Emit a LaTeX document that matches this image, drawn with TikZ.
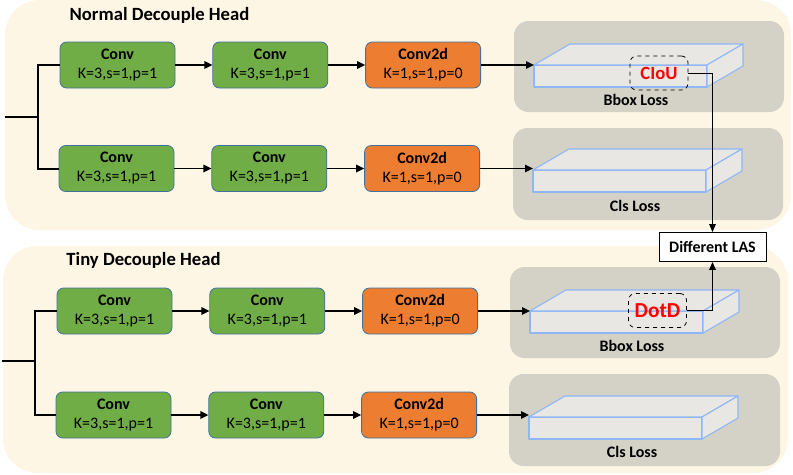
\documentclass[tikz,border=0pt]{standalone}
\usepackage{fontspec}
\setmainfont{Carlito}
\usetikzlibrary{positioning,arrows.meta}

\definecolor{cream}{HTML}{FEF6E5}
\definecolor{panelgray}{HTML}{D4D1C6}
\definecolor{slabfill}{HTML}{E8E7E3}
\definecolor{slabedge}{HTML}{8FB6F7}
\definecolor{convgreen}{HTML}{70AD47}
\definecolor{convorange}{HTML}{ED7D31}
\definecolor{boxedge}{HTML}{41719C}
\definecolor{lossred}{HTML}{FF0000}

\tikzset{
    convbox/.style={draw=boxedge, fill=convgreen, line width=0.6pt, rounded corners=5pt,
        minimum width=86.25pt, minimum height=34.5pt, inner sep=0pt, align=center,
        font=\fontsize{12}{14.25}\selectfont},
    cvbox/.style={convbox, fill=convorange},
    trunk/.style={line width=1.5pt},
    flow/.style={line width=1.3pt, -{Triangle[length=6pt,width=5.5pt]}},
    thinflow/.style={line width=0.7pt, -{Triangle[length=6pt,width=5pt]}},
    panel/.style={fill=panelgray, rounded corners=11pt},
    slab/.style={draw=slabedge, fill=slabfill, line width=0.8pt, line join=round},
    tag/.style={draw, dashed, line width=0.6pt, rounded corners=5pt, text=lossred,
        minimum width=43.5pt, minimum height=25.5pt, inner sep=0pt},
    headtitle/.style={font=\bfseries\fontsize{14}{16}\selectfont},
    losslabel/.style={font=\bfseries\fontsize{12}{14}\selectfont},
}

% 3d slab: front face, top face, right face
\newcommand{\lossslab}[2]{%
    \draw[slab] (#1,#2) rectangle ++(173,22);
    \draw[slab] (#1,#2) -- ++(36,-21) -- ++(173,0) -- ++(-36,21) -- cycle;
    \draw[slab] (#1+173,#2) -- ++(36,-21) -- ++(0,22) -- ++(-36,21) -- cycle;
}

\begin{document}
\begin{tikzpicture}[x=0.75pt, y=-0.75pt, node distance=27.75pt]
    \useasboundingbox (0,0) rectangle (793,475);

    % backgrounds
    \fill[cream, rounded corners=26pt] (5,0) rectangle (791,230);
    \fill[cream, rounded corners=26pt] (3,246) rectangle (788,473);
    \fill[panel] (514,21) rectangle (784,112);
    \fill[panel] (513,128) rectangle (783,220);
    \fill[panel] (510,267) rectangle (780,358);
    \fill[panel] (509,374) rectangle (780,466);

    \node[headtitle] (normal) at (159.5,15) {Normal Decouple Head};
    \node[headtitle] (tiny) at (143.5,260) {Tiny Decouple Head};

    % normal head
    \node[convbox] (na1) at (117.5,65) {\textbf{Conv}\\K=3,s=1,p=1};
    \node[convbox, right=of na1] (na2) {\textbf{Conv}\\K=3,s=1,p=1};
    \node[cvbox, right=of na2] (na3) {\textbf{Conv2d}\\K=1,s=1,p=0};
    \node[convbox] (nb1) at (116.5,168.5) {\textbf{Conv}\\K=3,s=1,p=1};
    \node[convbox, right=of nb1] (nb2) {\textbf{Conv}\\K=3,s=1,p=1};
    \node[cvbox, right=of nb2] (nb3) {\textbf{Conv2d}\\K=1,s=1,p=0};

    % tiny head
    \node[convbox] (ta1) at (114.5,311) {\textbf{Conv}\\K=3,s=1,p=1};
    \node[convbox, right=of ta1] (ta2) {\textbf{Conv}\\K=3,s=1,p=1};
    \node[cvbox, right=of ta2] (ta3) {\textbf{Conv2d}\\K=1,s=1,p=0};
    \node[convbox] (tb1) at (113.5,415) {\textbf{Conv}\\K=3,s=1,p=1};
    \node[convbox, right=of tb1] (tb2) {\textbf{Conv}\\K=3,s=1,p=1};
    \node[cvbox, right=of tb2] (tb3) {\textbf{Conv2d}\\K=1,s=1,p=0};

    % losses
    \lossslab{534}{65}
    \lossslab{533}{170}
    \lossslab{530}{311}
    \lossslab{529}{417}
    \coordinate (sna) at (534,65);
    \coordinate (snb) at (533,170);
    \coordinate (sta) at (530,311);
    \coordinate (stb) at (529,417);

    \node[tag, font=\bfseries\fontsize{14}{16}\selectfont] (ciou) at (659,73) {CIoU};
    \node[tag, font=\bfseries\fontsize{16}{18}\selectfont] (dotd) at (657.5,310.5) {DotD};
    \node[losslabel] (bboxn) at (636,100) {Bbox Loss};
    \node[losslabel] (clsn) at (635,206) {Cls Loss};
    \node[losslabel] (bboxt) at (632,346) {Bbox Loss};
    \node[losslabel] (clst) at (632,452) {Cls Loss};

    \node[draw, line width=0.7pt, fill=white, minimum width=80.25pt, minimum height=21.75pt,
        inner sep=0pt, losslabel] (las) at (712.5,247) {Different LAS};

    % input trunks
    \coordinate (nin) at (5,116.5);
    \coordinate (nj) at (38,116.5);
    \coordinate (tin) at (2,361);
    \coordinate (tj) at (35,361);
    \draw[trunk] (nin) -- (nj);
    \draw[trunk] (na1.west) -| (nj) |- (nb1.west);
    \draw[trunk] (tin) -- (tj);
    \draw[trunk] (ta1.west) -| (tj) |- (tb1.west);

    % flows
    \draw[flow] (na1) -- (na2);
    \draw[flow] (na2) -- (na3);
    \draw[flow] (na3.east) -- (na3.east -| sna);
    \draw[flow] (nb1) -- (nb2);
    \draw[flow] (nb2) -- (nb3);
    \draw[flow] (nb3.east) -- (nb3.east -| snb);
    \draw[flow] (ta1) -- (ta2);
    \draw[flow] (ta2) -- (ta3);
    \draw[flow] (ta3.east) -- (ta3.east -| sta);
    \draw[flow] (tb1) -- (tb2);
    \draw[flow] (tb2) -- (tb3);
    \draw[flow] (tb3.east) -- (tb3.east -| stb);

    \draw[thinflow] (ciou.east) -| (las.north);
    \draw[thinflow] (dotd.east) -| (las.south);
\end{tikzpicture}
\end{document}
